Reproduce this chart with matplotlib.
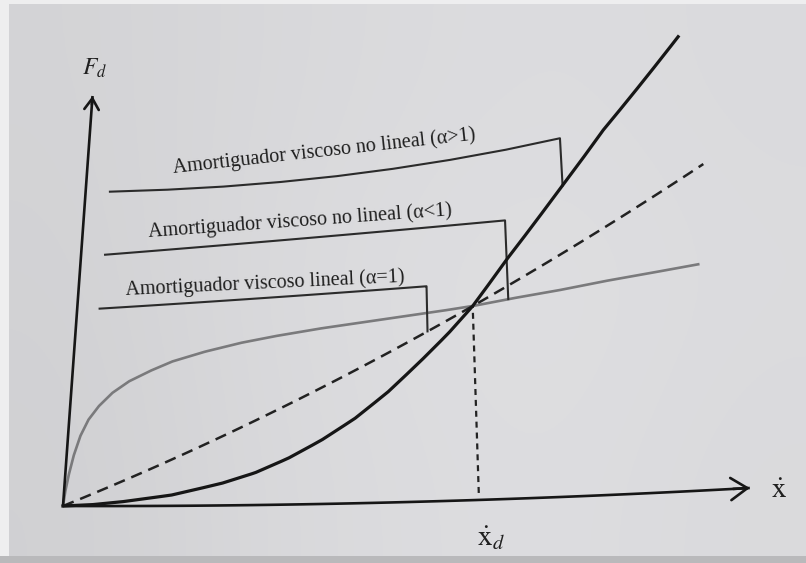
import numpy as np
import matplotlib
matplotlib.use("Agg")
import matplotlib.pyplot as plt
from matplotlib.transforms import Transform
from matplotlib.path import Path
from matplotlib.patches import FancyArrowPatch, Rectangle

# ---------------------------------------------------------------------------
# Damper force-velocity curves, F = C * v**alpha
# velocity normalised by the design velocity x_d, force by the force at x_d
# ---------------------------------------------------------------------------
vel_alpha_gt1 = [0.0, 0.07, 0.141, 0.26, 0.38, 0.46, 0.54, 0.621, 0.703,
                 0.785, 0.869, 0.937, 1.0, 1.091, 1.212, 1.356, 1.571]
force_alpha_gt1 = [0.0, 0.008, 0.024, 0.060, 0.121, 0.175, 0.249, 0.341,
                   0.450, 0.582, 0.738, 0.868, 1.0, 1.227, 1.506, 1.83, 2.247]

vel_alpha_lt1 = [0.0, 0.0025, 0.0077, 0.0165, 0.0295, 0.047, 0.0696, 0.1007,
                 0.140, 0.189, 0.246, 0.328, 0.411, 0.495, 0.620, 0.746,
                 0.871, 1.0, 1.09, 1.222, 1.323, 1.573]
force_alpha_lt1 = [0.0, 0.075, 0.167, 0.281, 0.395, 0.489, 0.563, 0.636,
                   0.698, 0.750, 0.800, 0.846, 0.882, 0.908, 0.937, 0.959,
                   0.978, 1.0, 1.022, 1.048, 1.072, 1.118]

vel_alpha_eq1 = [0.0, 1.608]
force_alpha_eq1 = [0.0, 1.608]

xd = 1.0                 # design velocity
axis_x_max = 1.651       # end of the velocity axis
axis_y_max = 2.343       # end of the force axis

# callout labels: text, anchor (u, v), rotation
label_text = ["Amortiguador viscoso lineal (\u03b1=1)",
              "Amortiguador viscoso no lineal (\u03b1<1)",
              "Amortiguador viscoso no lineal (\u03b1>1)"]
label_u = [0.477, 0.564, 0.626]
label_v = [1.172, 1.494, 1.852]
label_rot = [2.7, 4.1, 6.3]

# leader lines from each label down to its curve
leader1_u = [0.057, 0.885]
leader1_v = [1.12, 1.12]
leader2_u = [0.062, 1.09]
leader2_v = [1.425, 1.425]
leader3_u = [0.064, 0.2, 0.35, 0.5, 0.65, 0.8, 0.95, 1.1, 1.242]
leader3_v = [1.782, 1.762, 1.747, 1.740, 1.740, 1.748, 1.763, 1.785, 1.813]


class PageWarp(Transform):
    """Maps (velocity, force) onto the slightly tilted, bent printed page."""
    input_dims = 2
    output_dims = 2
    is_separable = False
    has_inverse = False

    X0, AX, BX, CX = 63.0, 416.0, 12.6, -18.9
    Y0, DY, EY = 506.0, 1.36, -7.43
    F0, G1, K2 = 175.0, 22.3, -3.4

    def transform_non_affine(self, values):
        uv = np.asarray(values, dtype=float).reshape(-1, 2)
        u, v = uv[:, 0], uv[:, 1]
        x = self.X0 + self.AX * u + self.BX * v + self.CX * u * v
        y = (self.Y0 + self.DY * u + self.EY * u * u
             - v * (self.F0 + self.G1 * u + self.K2 * u * u))
        return np.column_stack([x, y])

    def transform_path_non_affine(self, path):
        p = path.interpolated(40)
        return Path(self.transform_non_affine(p.vertices), p.codes)


W, H = 806, 563
fig = plt.figure(figsize=(W / 100, H / 100), dpi=100, facecolor="#eeeeef")
ax = fig.add_axes([0, 0, 1, 1])
ax.axis("off")

# paper background with soft lighting
shade = np.array([[0.830, 0.846, 0.858, 0.864, 0.856],
                  [0.824, 0.852, 0.868, 0.874, 0.862],
                  [0.818, 0.846, 0.862, 0.868, 0.854]])
rgb = np.clip(np.dstack([shade, shade, shade * 1.012]), 0, 1)
ax.imshow(rgb, extent=(9, W, 556, 4), interpolation="bicubic",
          aspect="auto", zorder=0)
ax.add_patch(Rectangle((0, 556), W, H - 556, color="#b9b9bb", zorder=0.5,
                       lw=0))
ax.set_xlim(0, W)
ax.set_ylim(H, 0)

warp = PageWarp()
page = warp + ax.transData

ink = "#161616"

# axes of the diagram
ax.plot([0, axis_x_max], [0, 0], transform=page, color=ink, lw=1.9,
        solid_capstyle="butt", zorder=3)
ax.plot([0, 0], [0, axis_y_max], transform=page, color=ink, lw=1.9,
        solid_capstyle="butt", zorder=3)


def arrow_head(p_from, p_to, head_length, head_width):
    a, b = warp.transform([p_from, p_to])
    ax.add_patch(FancyArrowPatch(tuple(a), tuple(b), shrinkA=0, shrinkB=0,
                                 arrowstyle=f"->,head_length={head_length},"
                                            f"head_width={head_width}",
                                 mutation_scale=20, lw=1.9, color=ink,
                                 zorder=3))


arrow_head((axis_x_max - 0.04, 0), (axis_x_max, 0), 0.6, 0.4)
arrow_head((0, axis_y_max - 0.05), (0, axis_y_max), 0.4, 0.26)

# curves
ax.plot(vel_alpha_lt1, force_alpha_lt1, transform=page, color="#7a7a7c",
        lw=1.9, zorder=2, solid_joinstyle="round")
ax.plot(vel_alpha_eq1, force_alpha_eq1, transform=page, color="#222222",
        lw=1.8, dashes=(4.6, 2.8), zorder=2)
ax.plot(vel_alpha_gt1, force_alpha_gt1, transform=page, color=ink,
        lw=2.3, zorder=4, solid_joinstyle="round")

# design velocity marker
ax.plot([xd, xd], [0.036, 1.0], transform=page, color="#222222", lw=1.6,
        dashes=(2.7, 2.2), zorder=2)

# leader lines
lead_col = "#2b2b2b"
end1 = np.interp(leader1_u[-1], vel_alpha_eq1, force_alpha_eq1)
end2 = np.interp(leader2_u[-1], vel_alpha_lt1, force_alpha_lt1)
end3 = np.interp(leader3_u[-1], vel_alpha_gt1, force_alpha_gt1)
ax.plot(leader1_u + [leader1_u[-1]], leader1_v + [end1], transform=page,
        color=lead_col, lw=1.5, zorder=3)
ax.plot(leader2_u + [leader2_u[-1]], leader2_v + [end2], transform=page,
        color=lead_col, lw=1.5, zorder=3)
ax.plot(leader3_u + [leader3_u[-1]], leader3_v + [end3], transform=page,
        color=lead_col, lw=1.5, zorder=3, solid_joinstyle="round")

# label texts
for s, u, v, r in zip(label_text, label_u, label_v, label_rot):
    ax.text(u, v, s, transform=page, rotation=r, rotation_mode="anchor",
            ha="center", va="baseline", fontsize=14.5, color="#1e1e1e",
            family=["Liberation Serif", "DejaVu Serif"], zorder=5)

# axis labels
plt.rcParams["mathtext.fontset"] = "stix"
ax.text(0.0, 2.50, r"$F_d$", transform=page, ha="center", va="center",
        fontsize=17, color="#202020", zorder=5)
ax.text(1.72, -0.02, r"$\dot{\mathrm{x}}$", transform=page, ha="center",
        va="center", fontsize=21, color="#202020", zorder=5)
ax.text(1.026, -0.20, r"$\dot{\mathrm{x}}_d$", transform=page, ha="center",
        va="center", fontsize=21, color="#202020", zorder=5)

fig.savefig("out.png", dpi=100, facecolor=fig.get_facecolor())
